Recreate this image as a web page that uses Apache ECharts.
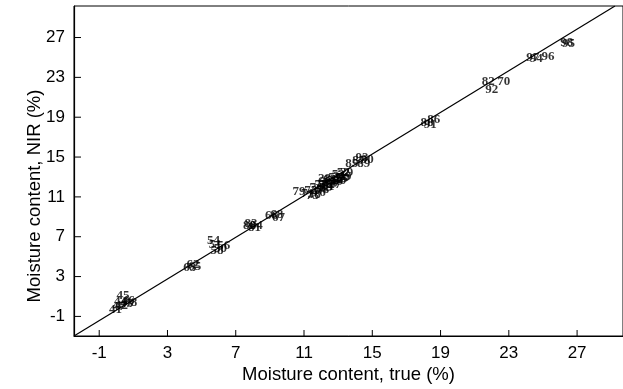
<!DOCTYPE html>
<html>
<head>
<meta charset="utf-8">
<script src="https://cdn.jsdelivr.net/npm/echarts@6/dist/echarts.min.js"></script>
<style>
  html, body { margin: 0; padding: 0; background: #fff; }
  #chart { width: 623px; height: 389px; }
</style>
</head>
<body>
<div id="chart"></div>
<script>
// Sample numbers and their moisture contents (%): oven reference vs. NIR prediction
const sampleIds = [
  41, 42, 43, 44, 45, 46, 47, 48,
  62, 63, 65,
  50, 51, 54, 56, 58,
  80, 81, 83, 84,
  66, 67, 68,
  79, 71, 72, 73, 74, 76, 77, 78, 60, 61, 64, 69, 57, 59, 53, 55, 52, 49, 40, 39,
  38, 37, 36, 35, 34, 33, 32, 31, 30, 29, 28, 27,
  85, 87, 89, 90, 93,
  86, 88, 91,
  82, 70, 92,
  97, 94, 96,
  98, 95
];
const trueMoisture = [
  -0.05, 0.3, 0.6, 0.25, 0.4, 0.7, 0.15, 0.85,
  4.5, 4.3, 4.6,
  6.1, 5.8, 5.7, 6.3, 5.9,
  7.8, 8.1, 7.9, 8.2,
  9.1, 9.5, 9.4,
  10.7, 11.2, 11.4, 11.5, 11.7, 11.9, 12.0, 12.1, 12.2, 12.4, 12.5, 12.6, 12.8, 12.9, 13.0, 13.2, 13.3, 13.4, 13.1, 12.3,
  11.6, 11.8, 12.0, 12.3, 12.5, 12.7, 12.9, 13.1, 13.3, 13.5, 12.2, 12.8,
  13.8, 14.2, 14.5, 14.7, 14.4,
  18.6, 18.2, 18.4,
  21.8, 22.7, 22.0,
  24.4, 24.6, 25.3,
  26.4, 26.5
];
const nirMoisture = [
  -0.3, 0.1, 0.25, 0.45, 1.05, 0.55, 0.0, 0.4,
  4.2, 3.9, 4.0,
  5.8, 6.2, 6.6, 6.1, 5.6,
  8.1, 7.9, 8.3, 8.1,
  9.1, 8.9, 9.2,
  11.5, 11.3, 11.6, 11.1, 11.9, 11.4, 12.2, 11.7, 12.5, 12.0, 12.7, 12.3, 12.9, 12.5, 13.2, 12.8, 13.4, 13.0, 12.6, 11.9,
  11.2, 11.6, 11.8, 12.2, 12.4, 12.6, 12.7, 13.0, 12.9, 13.4, 12.8, 12.2,
  14.3, 14.6, 14.3, 14.7, 14.9,
  18.8, 18.5, 18.3,
  22.6, 22.6, 21.8,
  25.0, 24.9, 25.1,
  26.5, 26.4
];

// Calibration line endpoints (true %, NIR %)
const lineTrue = [-2.477, 29.22];
const lineNir = [-2.966, 30.165];

// Axis tick values
const xTicks = [-1, 3, 7, 11, 15, 19, 23, 27];
const yTicks = [-1, 3, 7, 11, 15, 19, 23, 27];

const X_MIN = -2.477, X_MAX = 29.69;
const Y_MIN = -2.966, Y_MAX = 30.165;

const points = sampleIds.map((id, i) => [trueMoisture[i], nirMoisture[i], id]);
const linePts = lineTrue.map((x, i) => [x, lineNir[i]]);

const axisFont = { fontFamily: 'Liberation Sans', fontSize: 17, color: '#000' };
const titleFont = { fontFamily: 'Liberation Sans', fontSize: 18.5, color: '#000' };

// Inward tick marks placed through the axis scales
function tickSeries(values, dim, len) {
  return {
    type: 'custom',
    silent: true,
    clip: false,
    z: 3,
    data: values.map(v => [v]),
    renderItem: (params, api) => {
      const v = api.value(0);
      let p, q;
      if (dim === 'x') {
        p = api.coord([v, Y_MIN]);
        q = [p[0], p[1] - len];
      } else {
        p = api.coord([X_MIN, v]);
        q = [p[0] + len, p[1]];
      }
      return {
        type: 'line',
        shape: { x1: p[0], y1: p[1], x2: q[0], y2: q[1] },
        style: { stroke: '#000', lineWidth: 1 }
      };
    }
  };
}

const chart = echarts.init(document.getElementById('chart'), null, { renderer: 'canvas' });
chart.setOption({
  backgroundColor: '#fff',
  animation: false,
  grid: {
    left: 74, right: -3, top: 6, bottom: 51,
    show: true, borderColor: '#000', borderWidth: 1, backgroundColor: 'transparent'
  },
  xAxis: {
    type: 'value',
    min: X_MIN, max: X_MAX,
    name: 'Moisture content, true (%)',
    nameLocation: 'middle',
    nameGap: 29,
    nameMoveOverlap: false,
    nameTextStyle: titleFont,
    axisLine: { show: true, onZero: false, lineStyle: { color: '#000', width: 1.2 } },
    axisTick: { show: false },
    axisLabel: Object.assign({ customValues: xTicks, margin: 9 }, axisFont),
    splitLine: { show: false }
  },
  yAxis: {
    type: 'value',
    min: Y_MIN, max: Y_MAX,
    name: 'Moisture content, NIR (%)',
    nameLocation: 'middle',
    nameGap: 30,
    nameMoveOverlap: false,
    nameTextStyle: Object.assign({ padding: [0, 50, 0, 0] }, titleFont),
    axisLine: { show: true, onZero: false, lineStyle: { color: '#000', width: 1.2 } },
    axisTick: { show: false },
    axisLabel: Object.assign({ customValues: yTicks, margin: 9 }, axisFont),
    splitLine: { show: false }
  },
  series: [
    tickSeries(xTicks, 'x', 6),
    tickSeries(yTicks, 'y', 7),
    {
      type: 'line',
      data: linePts,
      symbol: 'none',
      lineStyle: { color: '#000', width: 1.2 },
      silent: true,
      z: 1
    },
    {
      type: 'scatter',
      data: points,
      symbolSize: 1,
      itemStyle: { color: 'rgba(0,0,0,0)' },
      label: {
        show: true,
        position: 'inside',
        formatter: p => String(p.value[2]),
        fontFamily: 'Liberation Serif',
        fontSize: 13,
        fontWeight: 'bold',
        color: '#000'
      },
      labelLayout: { hideOverlap: false },
      z: 2
    }
  ]
});
</script>
</body>
</html>
